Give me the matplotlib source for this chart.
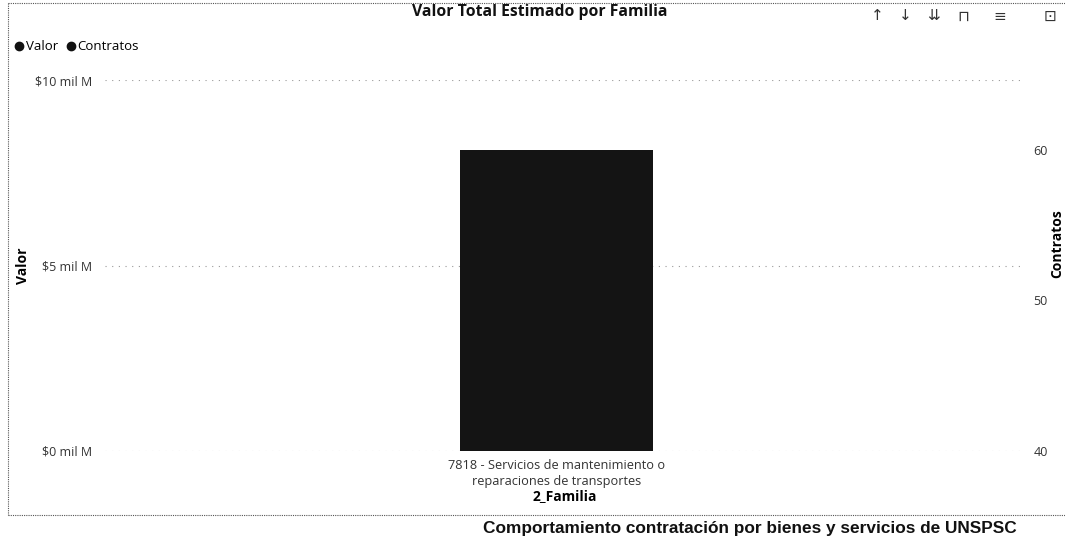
import matplotlib.pyplot as plt
from matplotlib.lines import Line2D

familias = ['7818 - Servicios de mantenimiento o\nreparaciones de transportes']
valor = [8.11]          # mil M
contratos = [60]
valor_ticks = [0, 5, 10]
valor_labels = ['$0 mil M', '$5 mil M', '$10 mil M']
contratos_ticks = [40, 50, 60]

plt.rcParams['font.family'] = ['Open Sans', 'DejaVu Sans']

fig = plt.figure(figsize=(10.65, 5.39), dpi=100)
ax = fig.add_axes([105 / 1065, 88 / 539, 920 / 1065, 371 / 539])

x = list(range(len(familias)))
ax.bar(x, valor, width=0.21, color='#141414', zorder=3)
ax.set_xlim(-0.491, 0.509)
ax.set_ylim(0, 10)
ax.set_yticks(valor_ticks)
ax.set_yticklabels(valor_labels, fontsize=9, color='#333333')
ax.set_xticks(x)
ax.set_xticklabels(familias, fontsize=9.2, color='#333333', linespacing=1.25)
ax.tick_params(length=0, pad=9)
ax.tick_params(axis='x', pad=6)
ax.grid(axis='y', linestyle=(0, (1, 5)), color='#999999', linewidth=0.8, zorder=0)
for s in ax.spines.values():
    s.set_visible(False)
ax.set_ylabel('Valor', fontsize=10, fontweight='bold')
ax.yaxis.set_label_coords(-0.082, 0.5)
ax.set_xlabel('2_Familia', fontsize=10, fontweight='bold', labelpad=1)

ax2 = ax.twinx()
ax2.plot(x, contratos, color='#111111', linewidth=2)
ax2.set_ylim(40, 64.65)
ax2.set_yticks(contratos_ticks)
ax2.tick_params(length=0, pad=6, labelsize=9, labelcolor='#333333')
for s in ax2.spines.values():
    s.set_visible(False)
ax2.set_ylabel('Contratos', fontsize=10, fontweight='bold')
ax2.yaxis.set_label_coords(1.027, 0.56)

fig.text(540 / 1065, 1 - 12 / 539, 'Valor Total Estimado por Familia', ha='center', va='center',
         fontsize=11.3, fontweight='bold', color='#111111')

# legend
handles = [Line2D([], [], marker='o', linestyle='', color='#111111', markersize=6),
           Line2D([], [], marker='o', linestyle='', color='#111111', markersize=6)]
fig.legend(handles, ['Valor', 'Contratos'], loc='center left', bbox_to_anchor=(8 / 1065, 1 - 47 / 539),
           ncol=2, frameon=False, fontsize=9.5, handletextpad=0.05, columnspacing=0.5,
           handlelength=0.9, borderaxespad=0)

# toolbar icons
icons = [('↑', 877), ('↓', 905), ('⇊', 934), ('⊓', 963), ('≡', 1000), ('⊡', 1050)]
for glyph, xp in icons:
    fig.text(xp / 1065, 1 - 16 / 539, glyph, ha='center', va='center', fontsize=11,
             color='#333333', family='DejaVu Sans')

# frame lines of the scanned report
fig.add_artist(Line2D([8 / 1065, 1], [1 - 3 / 539, 1 - 3 / 539], color='#555555',
                      linestyle=(0, (1, 1)), linewidth=0.8))
fig.add_artist(Line2D([8 / 1065, 8 / 1065], [1 - 3 / 539, 1 - 515 / 539], color='#555555',
                      linestyle=(0, (1, 1)), linewidth=0.8))
fig.add_artist(Line2D([8 / 1065, 1], [1 - 515 / 539, 1 - 515 / 539], color='#555555',
                      linestyle=(0, (1, 1)), linewidth=0.8))

fig.text(750 / 1065, 1 - 528 / 539, 'Comportamiento contratación por bienes y servicios de UNSPSC',
         ha='center', va='center', fontsize=12.4, fontweight='bold', color='#111111',
         family=['Liberation Sans', 'DejaVu Sans'])

fig.savefig('out.png', dpi=100)
